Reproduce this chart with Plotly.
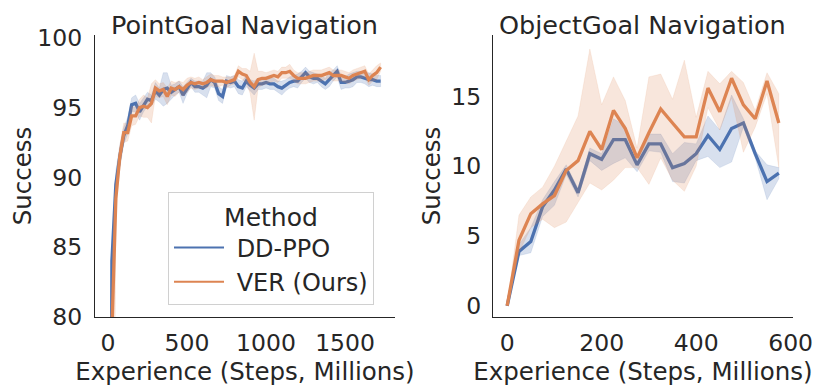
import plotly.graph_objects as go

# PointGoal navigation (left panel), experience in millions of steps
pg_steps = [i * 25 for i in range(70)]
pg_ddppo = [0, 84, 89.5, 91.5, 93.0, 93.7, 95.2, 95.3, 94.7, 95.2,
            95.6, 95.5, 96.2, 95.9, 96.3, 96.4, 96.1, 96.3, 96.5, 95.9,
            96.4, 96.8, 96.5, 96.5, 96.4, 96.6, 97.0, 96.8, 96.0, 95.8,
            96.9, 96.8, 96.9, 96.5, 96.4, 96.9, 96.6, 96.4, 96.7, 96.7,
            96.8, 96.7, 96.7, 96.5, 96.4, 96.6, 96.8, 96.9, 96.9, 97.2,
            97.5, 97.2, 97.1, 97.1, 96.9, 96.7, 97.0, 97.3, 97.6, 96.8,
            96.8, 96.9, 97.0, 97.2, 97.2, 97.1, 97.0, 97.0, 96.9, 96.9]
pg_ddppo_sd = [0, 1.0, 1.0, 0.8, 0.6, 0.6, 0.5, 0.6, 0.6, 0.5,
               0.5, 0.4, 0.6, 0.5, 1.2, 1.1, 0.5, 0.4, 0.4, 0.6,
               0.4, 0.3, 0.4, 0.4, 0.5, 0.9, 0.5, 0.4, 0.5, 0.5,
               0.4, 0.4, 0.4, 0.5, 0.5, 0.4, 0.4, 0.5, 0.4, 0.4,
               0.4, 0.4, 0.4, 0.4, 0.5, 0.4, 0.4, 0.4, 0.5, 0.4,
               0.4, 0.4, 0.4, 0.3, 0.4, 0.4, 0.5, 0.4, 0.4, 0.5,
               0.4, 0.5, 0.5, 0.4, 0.4, 0.4, 0.5, 0.4, 0.4, 0.4]
pg_ver = [0, 79, 88.5, 91.5, 93.2, 93.2, 94.4, 94.4, 95.0, 95.1,
          95.0, 95.3, 96.4, 96.2, 96.3, 95.8, 96.4, 96.3, 96.5, 96.3,
          96.6, 96.8, 96.7, 96.8, 96.7, 96.8, 97.0, 96.9, 96.9, 96.9,
          96.8, 96.9, 97.0, 97.6, 97.4, 97.3, 96.8, 96.5, 97.0, 97.1,
          97.1, 97.2, 97.3, 97.2, 97.5, 97.5, 97.6, 97.3, 97.1, 97.1,
          97.1, 97.2, 97.3, 97.3, 97.3, 97.4, 97.5, 97.3, 97.3, 97.3,
          97.2, 97.1, 97.3, 97.4, 97.5, 97.6, 97.0, 97.3, 97.5, 97.9]
pg_ver_sd = [0, 1.2, 1.0, 0.8, 0.7, 0.6, 0.7, 0.6, 0.6, 0.8,
             0.7, 1.4, 0.6, 0.5, 0.5, 0.6, 0.5, 0.5, 0.4, 0.5,
             0.5, 0.4, 0.4, 0.4, 0.3, 0.4, 0.4, 0.4, 0.4, 0.3,
             0.4, 0.3, 0.3, 0.4, 0.4, 0.5, 0.8, 2.4, 0.6, 0.5,
             0.4, 0.4, 0.4, 0.4, 0.4, 0.4, 0.5, 0.4, 0.4, 0.4,
             0.4, 0.4, 0.4, 0.4, 0.4, 0.4, 0.4, 0.4, 0.4, 0.4,
             0.4, 0.4, 0.4, 0.4, 0.4, 0.4, 0.4, 0.4, 0.5, 0.3]

# ObjectGoal navigation (right panel)
og_steps = [i * 25 for i in range(24)]
og_ddppo = [0, 3.9, 4.6, 7.1, 8.3, 9.8, 8.1, 10.9, 10.5, 11.9, 11.9, 10.1,
            11.6, 11.6, 9.9, 10.2, 10.9, 12.2, 11.2, 12.7, 13.1, 10.9, 8.9, 9.5]
og_ddppo_lo = [0, 3.6, 3.8, 6.4, 7.2, 9.4, 7.8, 10.4, 9.7, 10.2, 10.6, 9.6,
               11.1, 11.0, 8.9, 8.8, 10.4, 10.7, 9.9, 10.3, 12.8, 10.6, 7.6, 9.1]
og_ddppo_hi = [0, 4.4, 5.6, 7.6, 8.9, 10.1, 8.4, 11.3, 10.9, 13.4, 12.9, 10.4,
               12.3, 12.3, 10.9, 11.7, 11.6, 13.6, 12.6, 15.1, 13.4, 11.1, 10.1, 9.9]
og_ver = [0, 4.7, 6.6, 7.3, 7.9, 9.7, 10.4, 12.5, 11.2, 14.0, 12.7, 10.6,
          12.4, 14.1, 13.1, 12.1, 12.1, 15.6, 13.9, 16.3, 14.4, 13.4, 16.1, 13.1]
og_ver_lo = [0, 3.8, 5.6, 6.2, 5.6, 6.0, 7.4, 8.8, 8.3, 9.0, 9.9, 9.9,
             8.7, 10.6, 9.0, 8.2, 10.0, 14.2, 12.6, 14.9, 11.0, 12.8, 15.2, 9.9]
og_ver_hi = [0, 6.5, 7.8, 8.5, 10.0, 11.8, 13.6, 18.4, 14.4, 16.4, 14.7, 11.3,
             16.4, 16.6, 14.8, 17.6, 13.5, 16.8, 15.9, 16.8, 16.0, 14.0, 16.7, 15.2]

BLUE = "#4C72B0"
ORANGE = "#DD8452"
FONT = "DejaVu Sans"
TXT = "#262626"

# page has an 8px body margin, so the figure is 8px smaller than the window
W, H = 823, 383

fig = go.Figure()


def add_series(x, y, lo, hi, color, fillc, xa, ya):
    fig.add_trace(go.Scatter(
        x=x + x[::-1], y=hi + lo[::-1], fill="toself", fillcolor=fillc,
        line=dict(width=0.6, color=fillc), mode="lines", hoverinfo="skip",
        showlegend=False, xaxis=xa, yaxis=ya))
    fig.add_trace(go.Scatter(
        x=x, y=y, mode="lines", line=dict(color=color, width=3.3),
        showlegend=False, xaxis=xa, yaxis=ya))


pg_ddppo_lo = [m - s for m, s in zip(pg_ddppo, pg_ddppo_sd)]
pg_ddppo_hi = [m + s for m, s in zip(pg_ddppo, pg_ddppo_sd)]
pg_ver_lo = [m - s for m, s in zip(pg_ver, pg_ver_sd)]
pg_ver_hi = [m + s for m, s in zip(pg_ver, pg_ver_sd)]

add_series(pg_steps, pg_ddppo, pg_ddppo_lo, pg_ddppo_hi, BLUE, "rgba(76,114,176,0.22)", "x", "y")
add_series(pg_steps, pg_ver, pg_ver_lo, pg_ver_hi, ORANGE, "rgba(221,132,82,0.2)", "x", "y")
add_series(og_steps, og_ddppo, og_ddppo_lo, og_ddppo_hi, BLUE, "rgba(76,114,176,0.22)", "x2", "y2")
add_series(og_steps, og_ver, og_ver_lo, og_ver_hi, ORANGE, "rgba(221,132,82,0.2)", "x2", "y2")

# legend-only entries
for name, c in [(" DD-PPO", BLUE), (" VER (Ours)", ORANGE)]:
    fig.add_trace(go.Scatter(x=[None], y=[None], mode="lines", name=name,
                             line=dict(color=c, width=2)))

axis_common = dict(showgrid=False, zeroline=False, showline=True, linecolor=TXT,
                   linewidth=1.3, ticks="", tickfont=dict(size=23.5, color=TXT, family=FONT))
xtitle = dict(text="Experience (Steps, Millions)", font=dict(size=24.5), standoff=1)
ytitle = dict(text="Success", font=dict(size=24.5), standoff=2)

fig.update_layout(
    width=W, height=H,
    margin=dict(l=0, r=0, t=0, b=0, autoexpand=False),
    paper_bgcolor="white", plot_bgcolor="white",
    font=dict(family=FONT, color=TXT),
    xaxis=dict(domain=[87 / W, 387 / W], range=[-82, 1816], tickvals=[0, 500, 1000, 1500],
               title=xtitle, anchor="y", ticklabelstandoff=5, **axis_common),
    yaxis=dict(domain=[1 - 309 / H, 1 - 27 / H], range=[80, 100.2], tickvals=[80, 85, 90, 95, 100],
               title=ytitle, anchor="x", ticklabelstandoff=7, **axis_common),
    xaxis2=dict(domain=[485 / W, 785 / W], range=[-30, 605], tickvals=[0, 200, 400, 600],
                title=xtitle, anchor="y2", ticklabelstandoff=5, **axis_common),
    yaxis2=dict(domain=[1 - 309 / H, 1 - 27 / H], range=[-0.8, 19.4], tickvals=[0, 5, 10, 15],
                title=dict(text="Success", font=dict(size=24.5), standoff=3),
                anchor="x2", ticklabelstandoff=6, **axis_common),
    legend=dict(x=160 / W, y=1 - 184 / H, xanchor="left", yanchor="top",
                bgcolor="white", bordercolor="#d0d0d0", borderwidth=1,
                font=dict(size=24, color=TXT, family=FONT),
                title=dict(text="Method", side="top center", font=dict(size=25)),
                itemwidth=50, tracegroupgap=0),
    annotations=[
        dict(text="PointGoal Navigation", x=237 / W, y=1, xref="paper", yref="paper",
             xanchor="center", yanchor="top", showarrow=False, font=dict(size=25.5, color=TXT)),
        dict(text="ObjectGoal Navigation", x=634 / W, y=1, xref="paper", yref="paper",
             xanchor="center", yanchor="top", showarrow=False, font=dict(size=25.5, color=TXT)),
    ],
)

fig.write_html("out.html")
